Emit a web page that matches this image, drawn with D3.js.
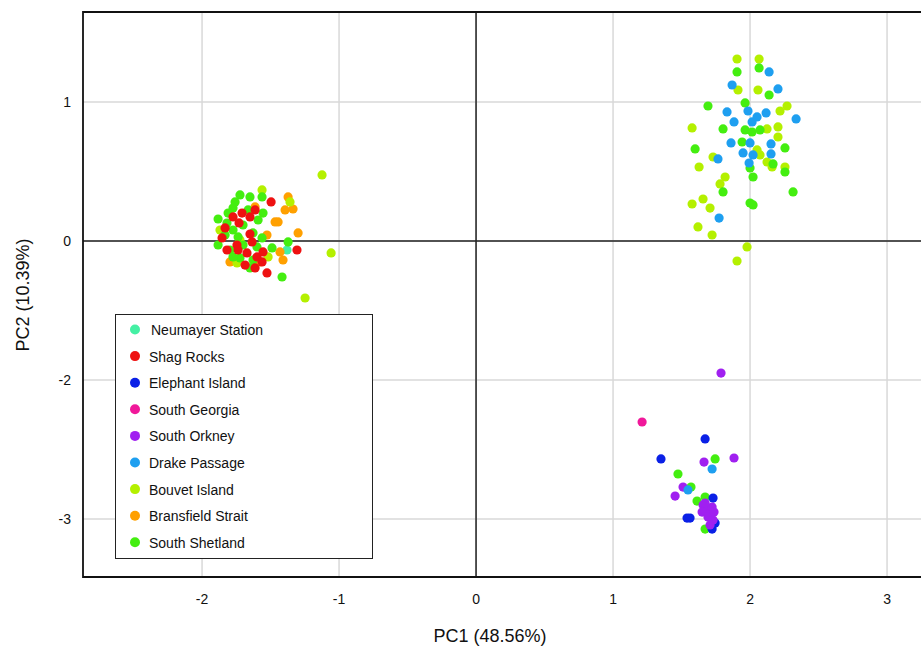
<!DOCTYPE html>
<html>
<head>
<meta charset="utf-8">
<script src="https://cdn.jsdelivr.net/npm/d3@7"></script>
<style>
  body { margin: 0; background: #fff; }
  svg { display: block; font-family: "Liberation Sans", Arial, sans-serif; }
</style>
</head>
<body>
<script>
const width = 921;
const height = 646;

const groups = [
  "Neumayer Station", "Shag Rocks", "Elephant Island", "South Georgia",
  "South Orkney", "Drake Passage", "Bouvet Island", "Bransfield Strait", "South Shetland",
];
const colors = [
  "#44f0a4", "#ee1111", "#0a20e6", "#f0189a",
  "#a020f0", "#1e9ff0", "#b4f000", "#ffa000", "#44ee10",
];

const xTicks = [-2, -1, 0, 1, 2, 3];
const yTicks = [1, 0, -1, -2];
const yTickLabels = ["1", "0", "-2", "-3"];

// [PC1, PC2] per group
const neumayer = [[-1.380, -0.065]];
const shagRocks = [
  [-1.496, 0.281], [-1.774, 0.173], [-1.650, 0.173], [-1.708, 0.201], [-1.613, 0.223],
  [-1.818, -0.065], [-1.672, -0.086], [-1.599, -0.115], [-1.555, -0.079], [-1.307, -0.065],
  [-1.526, -0.230], [-1.854, 0.022], [-1.635, -0.007], [-1.745, -0.029],
  [-1.832, 0.094], [-1.737, -0.065], [-1.613, -0.194], [-1.686, -0.173], [-1.562, -0.151],
  [-1.730, 0.130], [-1.650, 0.050],
];
const elephant = [
  [1.672, -1.424], [1.350, -1.568], [1.730, -1.849], [1.540, -1.993], [1.562, -1.993],
  [1.745, -2.029], [1.723, -2.072],
];
const southGeorgia = [[1.212, -1.302]];
const southOrkney = [
  [1.788, -0.950], [1.664, -1.590], [1.883, -1.561], [1.511, -1.770], [1.453, -1.835],
  [1.657, -1.899], [1.686, -1.935], [1.723, -1.914], [1.650, -1.950], [1.693, -1.986],
  [1.730, -2.007], [1.708, -2.043], [1.672, -1.885], [1.737, -1.950],
];
const drake = [
  [2.139, 1.216], [1.869, 1.122], [2.204, 1.094], [1.832, 0.928], [1.985, 0.935],
  [2.117, 0.921], [1.883, 0.856], [2.015, 0.856], [2.051, 0.892], [2.336, 0.878],
  [1.861, 0.705], [2.000, 0.705], [2.153, 0.698], [1.949, 0.633], [2.022, 0.619],
  [2.153, 0.626], [1.766, 0.590], [1.993, 0.561], [1.774, 0.165],
  [1.723, -1.640], [1.547, -1.791],
];
const bouvet = [
  [1.905, 1.309], [2.066, 1.309], [1.912, 1.086], [2.058, 1.086], [2.219, 0.935],
  [2.270, 0.971], [1.577, 0.813], [2.124, 0.806], [2.204, 0.820], [2.204, 0.748],
  [2.051, 0.655], [2.073, 0.619], [1.730, 0.604], [2.124, 0.568], [1.628, 0.532],
  [2.161, 0.532], [2.255, 0.532], [1.818, 0.460], [1.781, 0.410], [1.657, 0.302],
  [1.577, 0.266], [1.708, 0.237], [1.620, 0.101], [1.723, 0.043], [1.978, -0.043],
  [1.905, -0.144],
  [-1.562, 0.367], [-1.358, 0.281], [-1.869, 0.079], [-1.745, -0.158], [-1.518, -0.115],
  [-1.723, 0.007], [-1.124, 0.475], [-1.058, -0.086], [-1.248, -0.410],
];
const bransfield = [
  [-1.372, 0.317], [-1.394, 0.223], [-1.336, 0.230], [-1.467, 0.137], [-1.445, 0.137],
  [-1.299, 0.058], [-1.526, 0.043], [-1.431, -0.079], [-1.409, -0.137], [-1.796, -0.151],
  [-1.577, -0.151], [-1.613, 0.245],
];
const southShetland = [
  [1.905, 1.216], [2.066, 1.245], [2.139, 1.050], [1.693, 0.971], [1.964, 0.993],
  [1.803, 0.806], [1.964, 0.799], [2.015, 0.784], [2.073, 0.799], [1.942, 0.712],
  [1.599, 0.662], [2.255, 0.669], [2.000, 0.525], [2.168, 0.554], [2.255, 0.496],
  [2.022, 0.460], [1.803, 0.353], [2.314, 0.353], [2.000, 0.273], [2.022, 0.259],
  [1.745, -1.568], [1.474, -1.676], [1.569, -1.770], [1.613, -1.871], [1.672, -1.842],
  [1.672, -2.072],
  [-1.723, 0.331], [-1.650, 0.317], [-1.759, 0.281], [-1.774, 0.237], [-1.883, 0.158],
  [-1.818, 0.129], [-1.555, 0.201], [-1.591, 0.151], [-1.701, 0.115], [-1.774, 0.079],
  [-1.832, 0.043], [-1.737, 0.029], [-1.628, 0.058], [-1.562, 0.022], [-1.883, -0.029],
  [-1.701, -0.029], [-1.796, -0.065], [-1.599, -0.043], [-1.489, -0.050], [-1.372, -0.007],
  [-1.723, -0.122], [-1.628, -0.137], [-1.650, -0.194], [-1.774, -0.115], [-1.416, -0.259],
  [-1.562, 0.317], [-1.810, 0.201], [-1.664, 0.223],
];

const series = [neumayer, bransfield, bouvet, southShetland, shagRocks, elephant, southGeorgia, southOrkney, drake];
const seriesColor = [0, 7, 6, 8, 1, 2, 3, 4, 5].map((i) => colors[i]);

const plot = { left: 83, top: 12, right: 935, bottom: 577 };

const x = d3.scaleLinear()
    .domain([-2.869, 3.350])
    .range([plot.left, plot.right]);

const y = d3.scaleLinear()
    .domain([-2.417, 1.647])
    .range([plot.bottom, plot.top]);

const svg = d3.select("body")
    .append("svg")
    .attr("width", width)
    .attr("height", height);

// grid
svg.append("g")
    .selectAll("line")
    .data(xTicks)
    .join("line")
    .attr("x1", (d) => x(d)).attr("x2", (d) => x(d))
    .attr("y1", plot.top).attr("y2", plot.bottom)
    .attr("stroke", "#d9d9d9")
    .attr("stroke-width", 1.5);

svg.append("g")
    .selectAll("line")
    .data(yTicks)
    .join("line")
    .attr("x1", plot.left).attr("x2", plot.right)
    .attr("y1", (d) => y(d)).attr("y2", (d) => y(d))
    .attr("stroke", "#d9d9d9")
    .attr("stroke-width", 1.5);

// zero lines
svg.append("line")
    .attr("x1", x(0)).attr("x2", x(0))
    .attr("y1", plot.top).attr("y2", plot.bottom)
    .attr("stroke", "#222").attr("stroke-width", 1.5);
svg.append("line")
    .attr("x1", plot.left).attr("x2", plot.right)
    .attr("y1", y(0)).attr("y2", y(0))
    .attr("stroke", "#222").attr("stroke-width", 1.5);

// frame (open on the right)
svg.append("path")
    .attr("d", `M${plot.right},${plot.top}H${plot.left}V${plot.bottom}H${plot.right}`)
    .attr("fill", "none")
    .attr("stroke", "#111")
    .attr("stroke-width", 1.8);

// points
series.forEach((pts, i) => {
  svg.append("g")
      .selectAll("circle")
      .data(pts)
      .join("circle")
      .attr("cx", (d) => x(d[0]))
      .attr("cy", (d) => y(d[1]))
      .attr("r", 4.6)
      .attr("fill", seriesColor[i]);
});

// tick labels
svg.append("g")
    .selectAll("text")
    .data(xTicks)
    .join("text")
    .attr("x", (d) => x(d))
    .attr("y", 604)
    .attr("text-anchor", "middle")
    .attr("font-size", 14)
    .attr("fill", "#111")
    .text((d) => d);

svg.append("g")
    .selectAll("text")
    .data(yTicks)
    .join("text")
    .attr("x", 71)
    .attr("y", (d) => y(d) + 5)
    .attr("text-anchor", "end")
    .attr("font-size", 14)
    .attr("fill", "#111")
    .text((d, i) => yTickLabels[i]);

// axis titles
svg.append("text")
    .attr("x", 490)
    .attr("y", 642)
    .attr("text-anchor", "middle")
    .attr("font-size", 18)
    .attr("fill", "#111")
    .text("PC1 (48.56%)");

svg.append("text")
    .attr("transform", "translate(29,295) rotate(-90)")
    .attr("text-anchor", "middle")
    .attr("font-size", 18)
    .attr("fill", "#111")
    .text("PC2 (10.39%)");

// legend
const legend = svg.append("g");
legend.append("rect")
    .attr("x", 115.5).attr("y", 314.5)
    .attr("width", 257).attr("height", 244)
    .attr("fill", "#fff")
    .attr("stroke", "#222")
    .attr("stroke-width", 1);

const rows = legend.selectAll("g")
    .data(groups)
    .join("g")
    .attr("transform", (d, i) => `translate(0,${330 + i * 26.6})`);

rows.append("circle")
    .attr("cx", 135).attr("cy", -0.5)
    .attr("r", 5)
    .attr("fill", (d, i) => colors[i]);

rows.append("text")
    .attr("x", (d, i) => i === 0 ? 151 : 149)
    .attr("y", 5)
    .attr("font-size", 14)
    .attr("fill", "#111")
    .text((d) => d);
</script>
</body>
</html>
